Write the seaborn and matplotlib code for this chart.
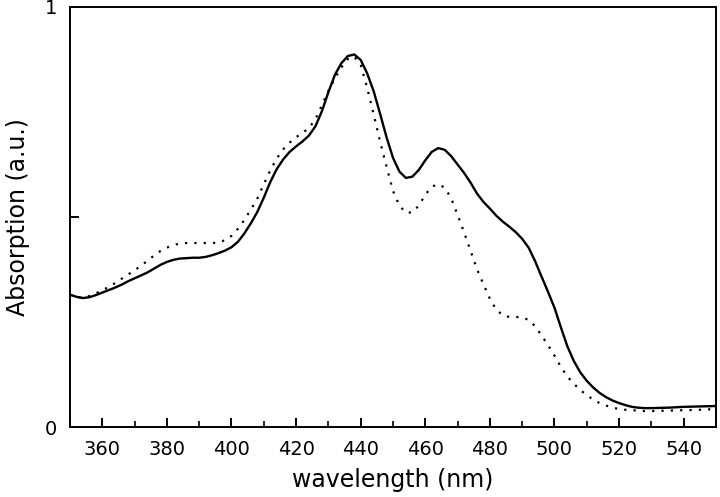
"""
Absorption spectra: solid vs dotted trace
"""

import matplotlib
matplotlib.use("Agg")
import matplotlib.pyplot as plt
from matplotlib.ticker import MultipleLocator
import seaborn as sns
import pandas as pd

sns.set_style("ticks")
plt.rcParams['font.family'] = ['DejaVu Sans']
plt.rcParams['text.color'] = 'black'
plt.rcParams['axes.labelcolor'] = 'black'

wavelength = [350, 352, 354, 356, 358, 360, 362, 364, 366, 368,
              370, 372, 374, 376, 378, 380, 382, 384, 386, 388,
              390, 392, 394, 396, 398, 400, 402, 404, 406, 408,
              410, 412, 414, 416, 418, 420, 422, 424, 426, 428,
              430, 432, 434, 436, 438, 440, 442, 444, 446, 448,
              450, 452, 454, 456, 458, 460, 462, 464, 466, 468,
              470, 472, 474, 476, 478, 480, 482, 484, 486, 488,
              490, 492, 494, 496, 498, 500, 502, 504, 506, 508,
              510, 512, 514, 516, 518, 520, 522, 524, 526, 528,
              530, 535, 540, 545, 550]

# solid trace
solid = [0.315, 0.310, 0.307, 0.309, 0.314, 0.320, 0.326, 0.332, 0.339, 0.347,
         0.354, 0.361, 0.368, 0.377, 0.386, 0.393, 0.398, 0.401, 0.402, 0.403,
         0.403, 0.405, 0.409, 0.414, 0.420, 0.428, 0.441, 0.461, 0.485, 0.512,
         0.546, 0.583, 0.614, 0.637, 0.655, 0.668, 0.680, 0.694, 0.716, 0.752,
         0.797, 0.838, 0.866, 0.883, 0.887, 0.874, 0.842, 0.800, 0.746, 0.690,
         0.641, 0.608, 0.593, 0.596, 0.612, 0.635, 0.655, 0.664, 0.660, 0.645,
         0.625, 0.605, 0.582, 0.556, 0.536, 0.520, 0.503, 0.489, 0.477, 0.464,
         0.448, 0.427, 0.395, 0.358, 0.322, 0.284, 0.237, 0.192, 0.157, 0.130,
         0.110, 0.094, 0.081, 0.071, 0.063, 0.057, 0.052, 0.048, 0.046, 0.045,
         0.045, 0.046, 0.048, 0.049, 0.050]

# dotted trace
dotted = [0.315, 0.310, 0.307, 0.312, 0.318, 0.326, 0.333, 0.343, 0.353, 0.363,
          0.373, 0.384, 0.396, 0.408, 0.419, 0.427, 0.433, 0.437, 0.438, 0.438,
          0.438, 0.438, 0.438, 0.439, 0.445, 0.455, 0.472, 0.493, 0.518, 0.544,
          0.578, 0.611, 0.639, 0.661, 0.677, 0.690, 0.700, 0.712, 0.733, 0.766,
          0.800, 0.830, 0.856, 0.876, 0.882, 0.862, 0.808, 0.745, 0.680, 0.620,
          0.562, 0.527, 0.510, 0.511, 0.527, 0.553, 0.572, 0.578, 0.570, 0.545,
          0.505, 0.464, 0.420, 0.376, 0.340, 0.305, 0.279, 0.266, 0.262, 0.262,
          0.261, 0.255, 0.240, 0.218, 0.195, 0.170, 0.143, 0.120, 0.103, 0.088,
          0.076, 0.065, 0.057, 0.051, 0.046, 0.043, 0.041, 0.040, 0.039, 0.038,
          0.038, 0.039, 0.040, 0.041, 0.043]

df = pd.DataFrame({'wavelength': wavelength, 'solid': solid, 'dotted': dotted})

fig = plt.figure(figsize=(7.2, 4.97), dpi=100)
ax = fig.add_axes([0.0972, 0.1408, 0.8972, 0.8452])

sns.lineplot(data=df, x='wavelength', y='solid', ax=ax, color='black',
             linewidth=1.7, linestyle='-')
sns.lineplot(data=df, x='wavelength', y='dotted', ax=ax, color='black',
             linewidth=1.6, linestyle=(0, (1, 3.2)))

ax.set_xlim(350, 550)
ax.set_ylim(0, 1)
ax.xaxis.set_minor_locator(MultipleLocator(10))
ax.set_xticks(range(360, 541, 20))
ax.set_yticks([0, 0.5, 1])
ax.set_yticklabels(['0', '', '1'])

for side in ['top', 'right', 'left', 'bottom']:
    ax.spines[side].set_visible(True)
    ax.spines[side].set_linewidth(1.4)
    ax.spines[side].set_color('black')

ax.tick_params(axis='both', which='major', direction='in', length=6.5, width=1.4,
               labelsize=14, pad=9, colors='black')
ax.tick_params(axis='x', which='minor', direction='in', length=4, width=1.4)
ax.tick_params(top=False, right=False)

ax.set_xlabel('wavelength (nm)', fontsize=17, labelpad=7, color='black')
ax.set_ylabel('Absorption (a.u.)', fontsize=17, labelpad=11, color='black')

plt.savefig('out.png', dpi=100)
plt.close()
